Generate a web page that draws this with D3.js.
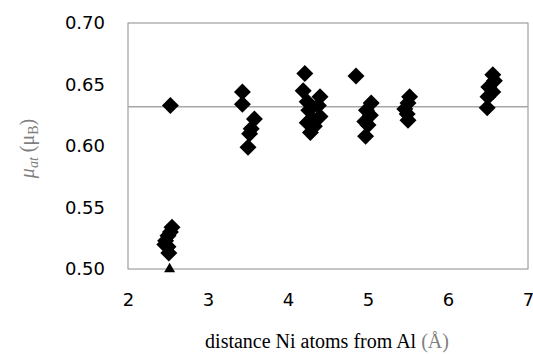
<!DOCTYPE html>
<html>
<head>
<meta charset="utf-8">
<script src="https://cdn.jsdelivr.net/npm/d3@7"></script>
<style>
  body { margin: 0; background: #fff; }
  svg { display: block; }
</style>
</head>
<body>
<svg id="chart" width="533" height="354"></svg>
<script>
// distances (Å) and moments (μB)
const distX = [
  2.53,
  2.55, 2.53, 2.50, 2.47, 2.46, 2.50, 2.51,
  3.43, 3.43, 3.58, 3.54, 3.52, 3.50,
  4.21, 4.19, 4.40, 4.24, 4.38, 4.26, 4.40, 4.30, 4.24, 4.33, 4.28,
  4.85, 5.04, 4.98, 5.03, 4.96, 5.00, 4.97,
  5.52, 5.50, 5.46, 5.49, 5.50,
  6.56, 6.58, 6.51, 6.56, 6.50, 6.49
]
const muAt = [
  0.633,
  0.534, 0.530, 0.527, 0.523, 0.520, 0.518, 0.513,
  0.644, 0.634, 0.622, 0.614, 0.610, 0.599,
  0.659, 0.645, 0.640, 0.636, 0.633, 0.629, 0.624, 0.622, 0.619, 0.616, 0.611,
  0.657, 0.635, 0.629, 0.625, 0.620, 0.617, 0.608,
  0.640, 0.635, 0.630, 0.626, 0.621,
  0.658, 0.653, 0.648, 0.644, 0.640, 0.631
]
// the single triangle point
const triX = [2.52]
const triY = [0.500]
// horizontal reference level
const refLevel = 0.632

const xTicks = [2, 3, 4, 5, 6, 7]
const yTicks = [0.50, 0.55, 0.60, 0.65, 0.70]

const margin = {top: 23, right: 5, bottom: 85, left: 128}
const width = 533 - margin.left - margin.right
const height = 354 - margin.top - margin.bottom

const svg = d3.select('#chart')
const g = svg.append('g')
  .attr('transform', 'translate(' + margin.left + ',' + margin.top + ')')

const x = d3.scaleLinear().domain([2, 7]).range([0, width])
const y = d3.scaleLinear().domain([0.50, 0.70]).range([height, 0])

// frame
g.append('rect')
  .attr('x', 0).attr('y', 0)
  .attr('width', width).attr('height', height)
  .attr('fill', 'none')
  .attr('stroke', '#8c8c8c')
  .attr('stroke-width', 1)

// reference line
g.append('line')
  .attr('x1', 0).attr('x2', width)
  .attr('y1', y(refLevel)).attr('y2', y(refLevel))
  .attr('stroke', '#a6a6a6')
  .attr('stroke-width', 1.5)

// axes, using d3 axis then restyling
const yAxis = g.append('g')
  .call(d3.axisLeft(y).tickValues(yTicks).tickFormat(d3.format('.2f')).tickSize(0).tickPadding(23))
yAxis.select('.domain').remove()
yAxis.selectAll('text')
  .attr('font-family', 'DejaVu Sans, sans-serif')
  .attr('font-size', 18)
  .attr('fill', '#000')

const xAxis = g.append('g')
  .attr('transform', 'translate(0,' + height + ')')
  .call(d3.axisBottom(x).tickValues(xTicks).tickFormat(d3.format('d')).tickSize(0).tickPadding(24))
xAxis.select('.domain').remove()
xAxis.selectAll('text')
  .attr('font-family', 'DejaVu Sans, sans-serif')
  .attr('font-size', 18)
  .attr('fill', '#000')

// diamonds
const pts = distX.map((d, i) => ({x: d, y: muAt[i]}))
const diamond = d3.symbol().type(d3.symbolSquare).size(144)
g.selectAll('.pt')
  .data(pts)
  .enter().append('path')
  .attr('class', 'pt')
  .attr('d', diamond)
  .attr('transform', d => 'translate(' + x(d.x) + ',' + y(d.y) + ') rotate(45)')
  .attr('fill', '#000')

// triangle
const tri = triX.map((d, i) => ({x: d, y: triY[i]}))
g.selectAll('.tri')
  .data(tri)
  .enter().append('path')
  .attr('class', 'tri')
  .attr('d', d3.symbol().type(d3.symbolTriangle).size(52))
  .attr('transform', d => 'translate(' + x(d.x) + ',' + y(d.y) + ')')
  .attr('fill', '#000')

// y axis title
const yt = svg.append('text')
  .attr('transform', 'translate(34,' + (margin.top + height * 0.51) + ') rotate(-90)')
  .attr('text-anchor', 'middle')
  .attr('font-family', 'Liberation Serif, Times New Roman, serif')
  .attr('font-size', 20)
  .attr('fill', '#7f7f7f')
yt.append('tspan').attr('font-style', 'italic').text('μ')
yt.append('tspan').attr('font-style', 'italic').attr('font-size', 14).attr('dy', 4).text('at')
yt.append('tspan').attr('dy', -4).text(' (μ')
yt.append('tspan').attr('font-size', 14).attr('dy', 4).text('B')
yt.append('tspan').attr('dy', -4).text(')')

// x axis title
const xt = svg.append('text')
  .attr('x', 327)
  .attr('y', 348)
  .attr('text-anchor', 'middle')
  .attr('font-family', 'Liberation Serif, Times New Roman, serif')
  .attr('font-size', 20)
  .attr('fill', '#000')
xt.append('tspan').text('distance Ni atoms from Al ')
xt.append('tspan').attr('fill', '#7f7f7f').text('(Å)')
</script>
</body>
</html>
